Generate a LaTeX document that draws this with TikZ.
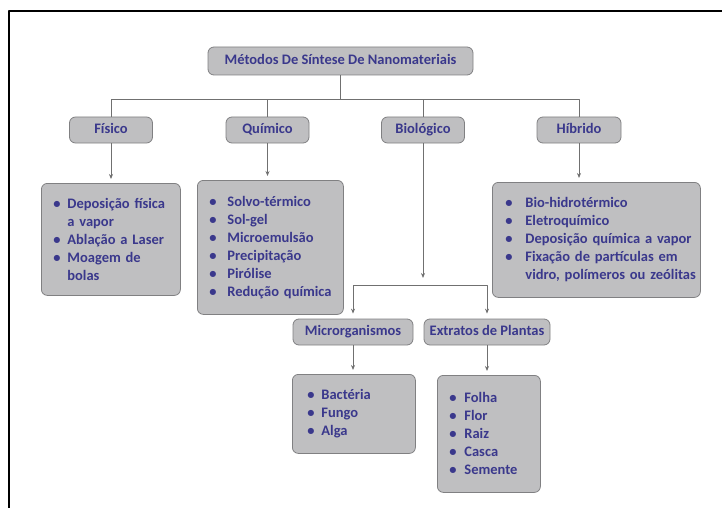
\documentclass[tikz,border=0pt]{standalone}
\usepackage{fontspec}
\setmainfont{Carlito}
\usetikzlibrary{arrows.meta}
\definecolor{texto}{RGB}{58,56,140}
\definecolor{caixa}{RGB}{191,191,193}
\definecolor{borda}{RGB}{128,128,130}
\definecolor{linha}{RGB}{112,112,112}
\newcommand{\itm}[2][15pt]{\makebox[#1][l]{\textbullet}\mbox{#2}\\}
\newcommand{\cont}[2][15pt]{\hspace*{#1}\mbox{#2}\\}
\begin{document}
\begin{tikzpicture}[x=1pt, y=-1pt, line join=round]
    % Estilos das caixas e das setas
    \tikzset{
      caixa/.style={draw=borda, line width=0.8pt, fill=caixa, rounded corners=6pt,
        text=texto, font=\bfseries\fontsize{14.5}{18}\selectfont, inner sep=0pt},
      rotulo/.style={caixa, text height=10pt, text depth=3pt, minimum height=26pt},
      lista/.style={caixa, anchor=north west, align=left, inner xsep=12pt},
      seta/.style={draw=linha, line width=0.8pt, -{Stealth[length=5pt, width=4pt]}, shorten >=4pt},
      seta2/.style={draw=linha, line width=0.8pt, {Stealth[length=5pt, width=4pt]}-{Stealth[length=5pt, width=4pt]},
        shorten >=5pt, shorten <=5pt},
      fio/.style={draw=linha, line width=0.8pt}
    }
    \useasboundingbox (0,0) rectangle (722,508);
    
    % Moldura
    \draw[line width=1.2pt] (9,508) -- (9,11) -- (722,11);
    
    % Nivel 0 e nivel 1
    \node[rotulo, minimum width=265pt, minimum height=28pt] (metodos) at (340.5,61) {Métodos De Síntese De Nanomateriais};
    \node[rotulo, minimum width=83pt] (fisico) at (111,130) {Físico};
    \node[rotulo, minimum width=83pt] (quimico) at (267.5,130) {Químico};
    \node[rotulo, minimum width=83pt] (biologico) at (423,130) {Biológico};
    \node[rotulo, minimum width=84pt] (hibrido) at (579,130) {Híbrido};
    
    % Listas
    \node[lista, text width=115pt, minimum height=112pt] (lfisico) at (41,183) {%
      \itm[14pt]{Deposição física}\cont[14pt]{a vapor}\itm[14pt]{Ablação a Laser}\itm[14pt]{Moagem de}\cont[14pt]{bolas}};
    \node[lista, text width=122pt, minimum height=134pt] (lquimico) at (197,180) {%
      \itm[18pt]{Solvo-térmico}\itm[18pt]{Sol-gel}\itm[18pt]{Microemulsão}\itm[18pt]{Precipitação}\itm[18pt]{Pirólise}\itm[18pt]{Redução química}};
    \node[lista, inner xsep=13pt, text width=182pt, minimum height=115pt] (lhibrido) at (492,182) {%
      \itm[20pt]{Bio-hidrotérmico}\itm[20pt]{Eletroquímico}\itm[20pt]{Deposição química a vapor}\itm[20pt]{Fixação de partículas em}\cont[20pt]{vidro, polímeros ou zeólitas}};
    
    % Ramo biologico
    \coordinate (bbus) at (423,285);
    \node[rotulo, minimum width=120pt] (micro) at (353,332) {Microrganismos};
    \node[rotulo, minimum width=126pt] (extratos) at (487,332) {Extratos de Plantas};
    \node[lista, inner xsep=15pt, text width=93pt, minimum height=79pt] (lmicro) at (292,374) {%
      \itm[14pt]{Bactéria}\itm[14pt]{Fungo}\itm[14pt]{Alga}};
    \node[lista, text width=79pt, minimum height=117pt] (lextratos) at (437,375) {%
      \itm[15pt]{Folha}\itm[15pt]{Flor}\itm[15pt]{Raiz}\itm[15pt]{Casca}\itm[15pt]{Semente}};
    
    % Ligacoes
    \coordinate (bus) at (340.5,99);
    \draw[fio] (metodos.south) -- (bus);
    \draw[fio] (fisico.north) -- (fisico.north |- bus) -- (hibrido.north |- bus) -- (hibrido.north);
    \draw[fio] (quimico.north) -- (quimico.north |- bus);
    \draw[fio] (biologico.north) -- (biologico.north |- bus);
    
    \draw[seta] (fisico.south) -- (fisico.south |- lfisico.north);
    \draw[seta] (quimico.south) -- (quimico.south |- lquimico.north);
    \draw[seta] (hibrido.south) -- (hibrido.south |- lhibrido.north);
    \draw[seta, shorten >=7pt] (biologico.south) -- (bbus);
    \draw[seta2] (micro.north) -- (micro.north |- bbus) -- (extratos.north |- bbus) -- (extratos.north);
    \draw[seta] (micro.south) -- (micro.south |- lmicro.north);
    \draw[seta] (extratos.south) -- (extratos.south |- lextratos.north);
  \end{tikzpicture}
\end{document}
